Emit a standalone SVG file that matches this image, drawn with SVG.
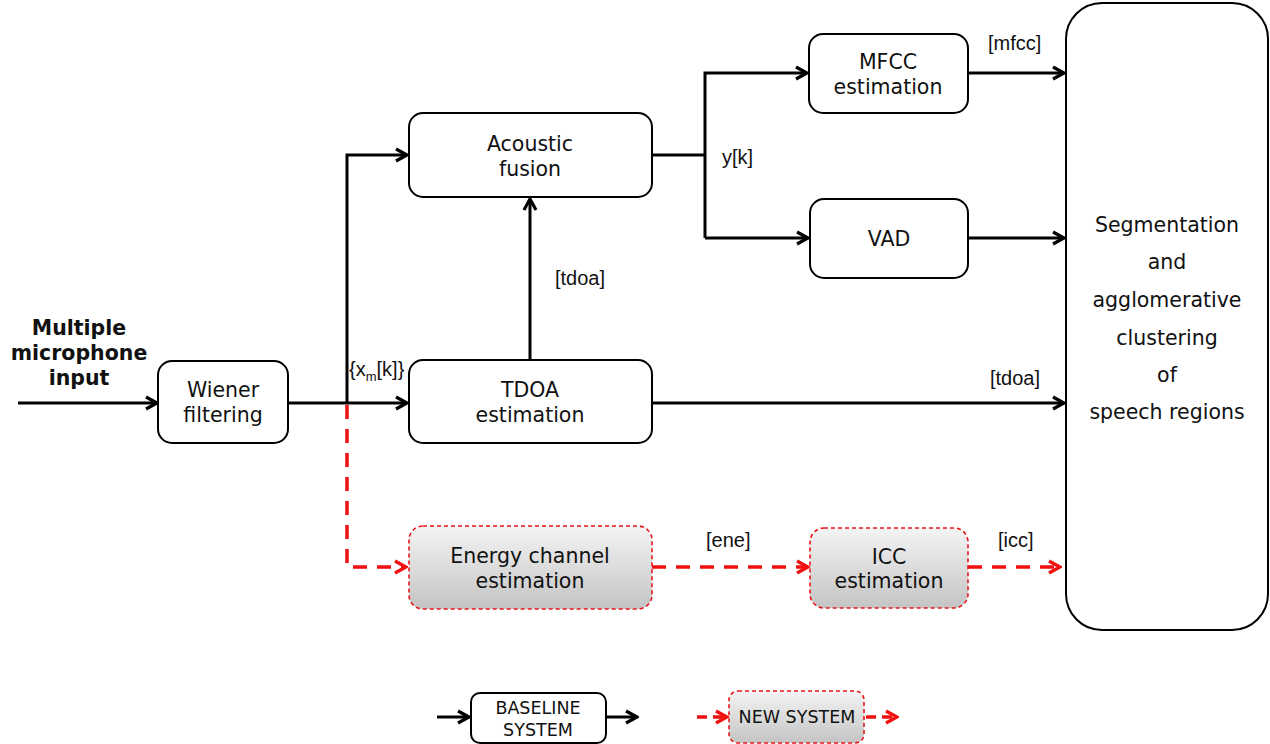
<svg xmlns="http://www.w3.org/2000/svg" width="1270" height="744" viewBox="0 0 1270 744">
<style>
.box{fill:#fff;stroke:#000;stroke-width:2}
.nbox{fill:url(#g);stroke:#e8161b;stroke-width:1.6;stroke-dasharray:4 3}
.t{font-family:"DejaVu Sans",Verdana,sans-serif;font-size:20.5px;fill:#111;text-anchor:middle}
.s{font-size:17.5px}
.l{font-family:"Liberation Sans",Arial,sans-serif;font-size:20px;fill:#111}
.b{stroke:#000;stroke-width:3;fill:none}
.r{stroke:#f01010;stroke-width:3.5;fill:none;stroke-dasharray:14 10}
.rs{stroke-dasharray:10 6}
</style>
<defs>
<linearGradient id="g" x1="0" y1="0" x2="0" y2="1">
<stop offset="0" stop-color="#f4f4f4"/>
<stop offset="1" stop-color="#c4c4c4"/>
</linearGradient>
<marker id="ab" viewBox="0 0 16 16" refX="14" refY="8" markerWidth="16" markerHeight="16" markerUnits="userSpaceOnUse" orient="auto">
<path d="M3,2 L14,8 L3,14" fill="none" stroke="#000" stroke-width="3.2"/>
</marker>
<marker id="ar" viewBox="0 0 16 16" refX="14" refY="8" markerWidth="16" markerHeight="16" markerUnits="userSpaceOnUse" orient="auto">
<path d="M3,2 L14,8 L3,14" fill="none" stroke="#f01010" stroke-width="3.4"/>
</marker>
</defs>
<g id="connectors">
<path class="b" d="M18,403 H157" marker-end="url(#ab)"/>
<path class="b" d="M288,403 H407" marker-end="url(#ab)"/>
<path class="b" d="M347,403 V155 H407" marker-end="url(#ab)"/>
<path class="b" d="M530,360 V199" marker-end="url(#ab)"/>
<path class="b" d="M652,155 H705"/>
<path class="b" d="M705,238 V73 H807" marker-end="url(#ab)"/>
<path class="b" d="M705,238 H808" marker-end="url(#ab)"/>
<path class="b" d="M968,73 H1064" marker-end="url(#ab)"/>
<path class="b" d="M968,238 H1064" marker-end="url(#ab)"/>
<path class="b" d="M652,403 H1064" marker-end="url(#ab)"/>
<path class="r" d="M347,405 V567 H406" marker-end="url(#ar)"/>
<path class="r" d="M652,567 H808" marker-end="url(#ar)"/>
<path class="r" d="M968,567 H1060" marker-end="url(#ar)"/>
<text class="l" x="555" y="285">[tdoa]</text>
<text class="l" x="722" y="164">y[k]</text>
<text class="l" x="988" y="50">[mfcc]</text>
<text class="l" x="990" y="385">[tdoa]</text>
<text class="l" x="706" y="547">[ene]</text>
<text class="l" x="998" y="547">[icc]</text>
<text class="l" x="349" y="376">{x<tspan font-size="13" dy="5">m</tspan><tspan dy="-5">[k]}</tspan></text>
</g>
<g id="input">
<text class="t" x="79" y="335" font-weight="bold">Multiple</text>
<text class="t" x="79" y="360" font-weight="bold">microphone</text>
<text class="t" x="79" y="385" font-weight="bold">input</text>
</g>
<g id="wiener">
<rect class="box" x="158" y="361" width="130" height="82" rx="14"/>
<text class="t" x="223" y="397">Wiener</text>
<text class="t" x="223" y="422">filtering</text>
</g>
<g id="acoustic">
<rect class="box" x="409" y="113" width="243" height="84" rx="14"/>
<text class="t" x="530" y="151">Acoustic</text>
<text class="t" x="530" y="176">fusion</text>
</g>
<g id="tdoa">
<rect class="box" x="409" y="360" width="243" height="83" rx="14"/>
<text class="t" x="530" y="397">TDOA</text>
<text class="t" x="530" y="422">estimation</text>
</g>
<g id="mfcc">
<rect class="box" x="809" y="34" width="159" height="79" rx="14"/>
<text class="t" x="888" y="69">MFCC</text>
<text class="t" x="888" y="94">estimation</text>
</g>
<g id="vad">
<rect class="box" x="810" y="199" width="158" height="79" rx="14"/>
<text class="t" x="889" y="246">VAD</text>
</g>
<g id="energy">
<rect class="nbox" x="409" y="526" width="243" height="83" rx="14"/>
<text class="t" x="530" y="563">Energy channel</text>
<text class="t" x="530" y="588">estimation</text>
</g>
<g id="icc">
<rect class="nbox" x="810" y="528" width="158" height="80" rx="14"/>
<text class="t" x="889" y="564">ICC</text>
<text class="t" x="889" y="588">estimation</text>
</g>
<g id="segmentation">
<rect class="box" x="1066" y="3" width="202" height="627" rx="36"/>
<text class="t" x="1167" y="232">Segmentation</text>
<text class="t" x="1167" y="269">and</text>
<text class="t" x="1167" y="307">agglomerative</text>
<text class="t" x="1167" y="345">clustering</text>
<text class="t" x="1167" y="382">of</text>
<text class="t" x="1167" y="419">speech regions</text>
</g>
<g id="legend-baseline">
<path class="b" d="M437,717 H469" marker-end="url(#ab)"/>
<rect class="box" x="471" y="693" width="135" height="50" rx="9"/>
<text class="t s" x="538" y="714">BASELINE</text>
<text class="t s" x="538" y="736">SYSTEM</text>
<path class="b" d="M606,717 H637" marker-end="url(#ab)"/>
</g>
<g id="legend-new">
<path class="r rs" d="M697,717 H727" marker-end="url(#ar)"/>
<rect class="nbox" x="729" y="691" width="135" height="52" rx="9"/>
<text class="t s" x="797" y="723">NEW SYSTEM</text>
<path class="r rs" d="M866,717 H897" marker-end="url(#ar)"/>
</g>
</svg>
